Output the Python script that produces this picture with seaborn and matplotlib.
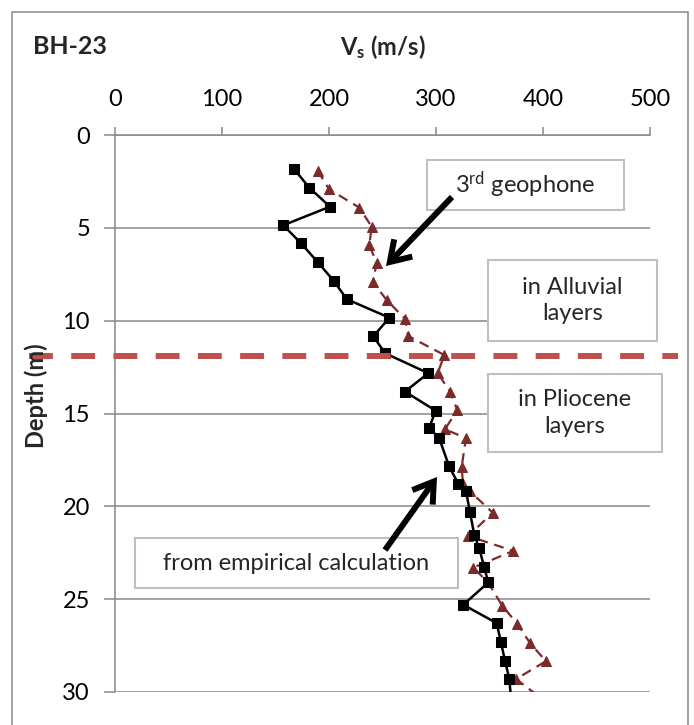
import matplotlib
matplotlib.use("Agg")
import matplotlib.pyplot as plt
from matplotlib.patches import Rectangle
import seaborn as sns
import pandas as pd

# ---------------- data ----------------
depth_emp = [1.85, 2.84, 3.86, 4.86, 5.83, 6.86, 7.85, 8.85, 9.84, 10.85, 11.76,
             12.83, 13.82, 14.85, 15.79, 16.3, 17.82, 18.79, 19.17, 20.32, 21.55,
             22.27, 23.26, 24.1, 25.3, 26.29, 27.33, 28.32, 29.3, 31.3]
vs_emp = [167.6, 181.6, 200.9, 157.3, 173.8, 189.7, 204.3, 216.8, 256.4, 241.4, 252.6,
          292.8, 271.0, 299.7, 293.5, 302.8, 312.1, 320.8, 328.0, 331.8, 335.8,
          340.5, 344.9, 348.9, 325.5, 356.7, 360.7, 364.5, 368.5, 371.6]

depth_geo = [1.92, 2.92, 3.91, 4.94, 5.92, 6.91, 7.9, 8.89, 9.9, 10.83, 11.85,
             12.83, 13.82, 14.81, 15.85, 16.33, 17.86, 18.8, 19.2, 20.34, 21.6,
             22.4, 23.3, 24.1, 25.36, 26.33, 27.37, 28.34, 29.3, 31.3]
vs_geo = [189.4, 200.0, 228.3, 239.9, 237.7, 244.6, 240.8, 253.9, 271.0, 274.1, 307.8,
          301.6, 313.1, 319.9, 308.4, 328.0, 324.0, 325.2, 331.8, 353.0, 330.2,
          372.2, 334.9, 348.6, 362.0, 376.0, 387.9, 402.8, 374.8, 420.0]

boundary_depth = 11.9

x_ticks = [0, 100, 200, 300, 400, 500]
y_ticks = [0, 5, 10, 15, 20, 25, 30]

title_text = "BH-23"
x_label = r"V$_\mathbf{s}$ (m/s)"
y_label = "Depth (m)"
box_texts = [r"3$^{\mathrm{rd}}$ geophone", "in Alluvial\nlayers",
             "in Pliocene\nlayers", "from empirical calculation"]

# ---------------- style ----------------
sns.set_theme(style="white")
plt.rcParams['font.family'] = ['Lato', 'DejaVu Sans']
plt.rcParams['mathtext.fontset'] = 'custom'
plt.rcParams['mathtext.rm'] = 'Lato'
plt.rcParams['mathtext.it'] = 'Lato:italic'
plt.rcParams['mathtext.bf'] = 'Lato:bold'

W, H = 694, 725
fig = plt.figure(figsize=(W / 100, H / 100), dpi=100)
fig.patch.set_facecolor('white')

def fx(px):
    return px / W

def fy(py):
    return 1 - py / H

ax_left, ax_right, ax_top, ax_bot = 115, 650, 135, 692
ax = fig.add_axes([fx(ax_left), fy(ax_bot), (ax_right - ax_left) / W, (ax_bot - ax_top) / H])

grey = '#888888'
df_emp = pd.DataFrame({'Vs': vs_emp, 'Depth': depth_emp})
df_geo = pd.DataFrame({'Vs': vs_geo, 'Depth': depth_geo})

sns.lineplot(data=df_geo, x='Vs', y='Depth', sort=False, estimator=None, ax=ax,
             color='#7A2B2A', linewidth=1.6, linestyle=(0, (4.5, 3)),
             marker='^', markersize=7, markeredgecolor='#7A2B2A', zorder=3)
sns.lineplot(data=df_emp, x='Vs', y='Depth', sort=False, estimator=None, ax=ax,
             color='black', linewidth=1.8, marker='s', markersize=6.5,
             markeredgecolor='black', zorder=4)

ax.set_xlim(0, 500)
ax.set_ylim(30, 0)
ax.set_xticks(x_ticks)
ax.set_yticks(y_ticks)
ax.set_xlabel('')
ax.set_ylabel('')
ax.xaxis.tick_top()
ax.tick_params(axis='x', top=True, bottom=False, direction='out', length=6, width=1.1,
               color=grey, pad=12, labelsize=17, labelcolor='black')
ax.tick_params(axis='y', left=True, direction='out', length=8, width=1.1,
               color=grey, pad=10, labelsize=17, labelcolor='black')
for s in ['right', 'bottom']:
    ax.spines[s].set_visible(False)
for s in ['top', 'left']:
    ax.spines[s].set_color(grey)
    ax.spines[s].set_linewidth(1.1)
ax.yaxis.grid(True, color=grey, linewidth=1.1)
ax.xaxis.grid(False)
ax.set_axisbelow(True)

# boundary between Alluvial and Pliocene layers
ax.axhline(boundary_depth, xmin=-0.16, xmax=1.052, color='#C0504D', linewidth=4.3,
           linestyle=(0, (4, 3.07)), clip_on=False, zorder=6)

# chart border
fig.patches.append(Rectangle((fx(12), -0.05), fx(688) - fx(12), fy(12) + 0.05,
                             transform=fig.transFigure, fill=False, ec=grey, lw=1.1))

# titles
fig.text(fx(33), fy(46), title_text, fontsize=18, fontweight='bold', ha='left', va='center')
fig.text(fx(383), fy(47), x_label, fontsize=17, fontweight='bold', ha='center', va='center')
fig.text(fx(36), fy(396), y_label, fontsize=17, fontweight='bold', ha='center', va='center',
         rotation=90)

# text boxes
boxes = [(427, 160, 624, 210), (488, 260, 657, 341), (488, 374, 662, 452), (135, 538, 458, 588)]
for (x0, y0, x1, y1), t in zip(boxes, box_texts):
    fig.patches.append(Rectangle((fx(x0), fy(y1)), fx(x1) - fx(x0), fy(y0) - fy(y1),
                                 transform=fig.transFigure, fc='white', ec='#BFBFBF',
                                 lw=1.5, zorder=5))
    fig.text(fx((x0 + x1) / 2), fy((y0 + y1) / 2), t, fontsize=17, ha='center',
             va='center', linespacing=1.3, zorder=6)

# arrows
arrows = [((452, 197), (386, 266)), ((385, 550), (437, 477))]
for (tx, ty), (hx, hy) in arrows:
    fig.add_artist(matplotlib.patches.FancyArrowPatch(
        (fx(tx), fy(ty)), (fx(hx), fy(hy)), transform=fig.transFigure,
        arrowstyle='->,head_length=0.7,head_width=0.45', mutation_scale=20,
        lw=4.3, color='black', shrinkA=0, shrinkB=0, zorder=7,
        capstyle='butt', joinstyle='miter'))

fig.savefig('out.png', dpi=100, facecolor='white')
